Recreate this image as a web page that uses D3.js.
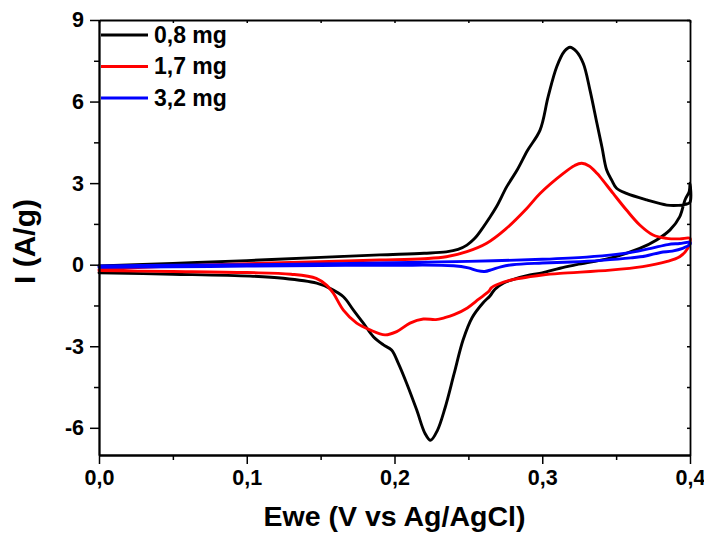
<!DOCTYPE html>
<html>
<head>
<meta charset="utf-8">
<script src="https://cdn.jsdelivr.net/npm/d3@7"></script>
<style>
  html, body { margin: 0; padding: 0; background: #fff; }
  svg { display: block; }
  text { font-family: "Liberation Sans", Arial, sans-serif; font-weight: bold; fill: #000; }
</style>
</head>
<body>
<svg id="chart" width="704" height="533"></svg>
<script>
// ---- Data ----
const seriesNames = ["0,8 mg", "1,7 mg", "3,2 mg"];
const seriesColors = ["#000000", "#ff0000", "#0000ff"];

// 0,8 mg : forward scan then reverse scan
const E_08 = [0, 0.05, 0.1, 0.15, 0.19, 0.22, 0.235, 0.243, 0.249, 0.254, 0.259, 0.264, 0.269, 0.276, 0.283, 0.29, 0.2985, 0.304, 0.3098, 0.315, 0.3188, 0.323, 0.3278, 0.3323, 0.337, 0.3405, 0.3436, 0.347, 0.3503, 0.357, 0.3707, 0.3843, 0.392, 0.397, 0.4,
              0.4, 0.3995, 0.3966, 0.393, 0.3865, 0.3774, 0.366, 0.3459, 0.3233, 0.312, 0.3, 0.2917, 0.28, 0.2736, 0.268, 0.2646, 0.26, 0.2525, 0.2464, 0.2403, 0.2342, 0.229, 0.2244, 0.2206, 0.215, 0.2082, 0.2026, 0.198, 0.1925, 0.1857, 0.1789, 0.1722, 0.1654, 0.1563, 0.1473, 0.1247, 0.1022, 0.05, 0];
const I_08 = [-0.05, 0.05, 0.15, 0.27, 0.36, 0.42, 0.47, 0.56, 0.72, 0.95, 1.3, 1.7, 2.13, 2.87, 3.48, 4.2, 4.95, 6.18, 7.28, 7.85, 8.0, 7.85, 7.4, 6.42, 5.2, 4.3, 3.48, 3.11, 2.81, 2.62, 2.38, 2.19, 2.18, 2.22, 2.3,
              3.0, 2.7, 2.38, 1.76, 1.28, 0.91, 0.6, 0.24, 0.0, -0.13, -0.3, -0.38, -0.55, -0.68, -0.9, -1.15, -1.4, -1.95, -2.77, -4.02, -5.27, -6.1, -6.46, -6.2, -5.34, -4.36, -3.63, -3.14, -2.95, -2.65, -2.15, -1.67, -1.18, -0.87, -0.68, -0.5, -0.42, -0.35, -0.3];

// 1,7 mg
const E_17 = [0, 0.05, 0.1, 0.15, 0.19, 0.22, 0.235, 0.249, 0.2624, 0.275, 0.2895, 0.2985, 0.3143, 0.322, 0.3267, 0.332, 0.337, 0.339, 0.348, 0.357, 0.366, 0.375, 0.384, 0.393, 0.4,
              0.4, 0.3985, 0.393, 0.384, 0.368, 0.346, 0.312, 0.3, 0.292, 0.28, 0.27, 0.2655, 0.264, 0.257, 0.2493, 0.2403, 0.234, 0.228, 0.2195, 0.2105, 0.2015, 0.1936, 0.1834, 0.1744, 0.1654, 0.1586, 0.154, 0.147, 0.13, 0.1, 0.05, 0];
const I_17 = [-0.18, -0.05, 0.04, 0.11, 0.17, 0.22, 0.29, 0.48, 0.79, 1.3, 2.07, 2.62, 3.36, 3.65, 3.73, 3.62, 3.36, 3.24, 2.62, 2.01, 1.46, 1.09, 0.97, 0.95, 0.97,
              0.85, 0.6, 0.29, 0.11, -0.07, -0.2, -0.32, -0.38, -0.44, -0.55, -0.72, -0.85, -0.97, -1.27, -1.59, -1.84, -1.95, -2.02, -2.0, -2.15, -2.46, -2.58, -2.4, -2.15, -1.67, -1.05, -0.75, -0.5, -0.35, -0.29, -0.25, -0.22];

// 3,2 mg
const E_32 = [0, 0.05, 0.1, 0.15, 0.2, 0.25, 0.3, 0.33, 0.35, 0.365, 0.375, 0.385, 0.393, 0.4,
              0.4, 0.395, 0.388, 0.38, 0.37, 0.36, 0.34, 0.32, 0.3, 0.28, 0.272, 0.266, 0.261, 0.256, 0.25, 0.24, 0.2, 0.15, 0.1, 0.05, 0];
const I_32 = [-0.05, -0.02, 0.0, 0.03, 0.07, 0.12, 0.2, 0.28, 0.38, 0.5, 0.62, 0.74, 0.78, 0.82,
              0.75, 0.6, 0.5, 0.45, 0.32, 0.25, 0.16, 0.1, 0.06, 0.0, -0.08, -0.18, -0.25, -0.22, -0.12, -0.04, -0.02, -0.03, -0.05, -0.08, -0.1];

const xMajorTicks = [0, 0.1, 0.2, 0.3, 0.4];
const xMinorTicks = [0.05, 0.15, 0.25, 0.35];
const yMajorTicks = [-6, -3, 0, 3, 6, 9];
const yMinorTicks = [-4.5, -1.5, 1.5, 4.5, 7.5];
const xLabel = "Ewe (V vs Ag/AgCl)";
const yLabel = "I (A/g)";

// ---- Drawing ----
const svg = d3.select("#chart");
const L = 99, R = 690, T = 20, B = 455;
const x = d3.scaleLinear().domain([0, 0.4]).range([L, R]);
const y = d3.scaleLinear().domain([-7, 9]).range([B, T]);
const fmtX = v => d3.format(".1f")(v).replace(".", ",");
const fmtY = v => String(v); // plain hyphen-minus as in the reference

const series = [
  { E: E_08, I: I_08 },
  { E: E_17, I: I_17 },
  { E: E_32, I: I_32 }
];

const line = d3.line()
  .x(d => x(d[0])).y(d => y(d[1]))
  .curve(d3.curveCatmullRom.alpha(0.5));

const plot = svg.append("g");
series.forEach((s, i) => {
  const pts = s.E.map((e, k) => [e, s.I[k]]);
  plot.append("path")
    .attr("d", line(pts))
    .attr("fill", "none")
    .attr("stroke", seriesColors[i])
    .attr("stroke-width", 2.9)
    .attr("stroke-linejoin", "round")
    .attr("stroke-linecap", "round");
});

// Axes (bottom / left with labels, outward ticks)
const xAxis = svg.append("g").attr("transform", `translate(0,${B})`)
  .call(d3.axisBottom(x).tickValues(xMajorTicks).tickSize(9).tickSizeOuter(0).tickPadding(6).tickFormat(fmtX));
const xAxisMinor = svg.append("g").attr("transform", `translate(0,${B})`)
  .call(d3.axisBottom(x).tickValues(xMinorTicks).tickSize(5).tickSizeOuter(0).tickFormat(""));
const yAxis = svg.append("g").attr("transform", `translate(${L},0)`)
  .call(d3.axisLeft(y).tickValues(yMajorTicks).tickSize(9).tickSizeOuter(0).tickPadding(6).tickFormat(fmtY));
const yAxisMinor = svg.append("g").attr("transform", `translate(${L},0)`)
  .call(d3.axisLeft(y).tickValues(yMinorTicks).tickSize(5).tickSizeOuter(0).tickFormat(""));
// Top / right mirror axes with inward ticks
const xTop = svg.append("g").attr("transform", `translate(0,${T})`)
  .call(d3.axisTop(x).tickValues(xMajorTicks.concat(xMinorTicks)).tickSize(-3).tickSizeOuter(0).tickFormat(""));
const yRight = svg.append("g").attr("transform", `translate(${R},0)`)
  .call(d3.axisRight(y).tickValues(yMajorTicks.concat(yMinorTicks)).tickSize(-3).tickSizeOuter(0).tickFormat(""));

[xAxis, xAxisMinor, yAxis, yAxisMinor, xTop, yRight].forEach(g => {
  g.select(".domain").attr("stroke", "#000").attr("stroke-width", 1.8);
  g.selectAll(".tick line").attr("stroke", "#000").attr("stroke-width", 1.5);
});
[xAxis, yAxis].forEach(g => g.selectAll(".tick text")
  .attr("font-size", 21.5)
  .attr("font-family", "Liberation Sans, Arial, sans-serif")
  .attr("font-weight", "bold")
  .attr("fill", "#000"));

// Axis titles
svg.append("text")
  .attr("x", (L + R) / 2).attr("y", 526)
  .attr("text-anchor", "middle")
  .attr("font-size", 28.5)
  .text(xLabel);
svg.append("text")
  .attr("transform", `translate(35,${(T + B) / 2 + 4}) rotate(-90)`)
  .attr("text-anchor", "middle")
  .attr("font-size", 30)
  .text(yLabel);

// Legend
const legY = [35, 66.5, 98];
seriesNames.forEach((name, i) => {
  const g = svg.append("g");
  g.append("line")
    .attr("x1", 101).attr("x2", 148)
    .attr("y1", legY[i]).attr("y2", legY[i])
    .attr("stroke", seriesColors[i]).attr("stroke-width", 3);
  g.append("text")
    .attr("x", 154).attr("y", legY[i] + 7.5)
    .attr("font-size", 23)
    .text(name);
});
</script>
</body>
</html>
